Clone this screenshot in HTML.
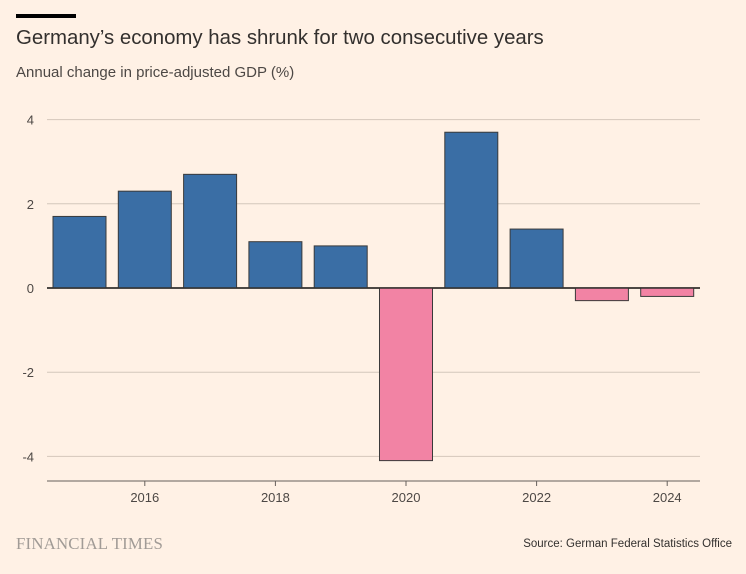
<!DOCTYPE html>
<html><head><meta charset="utf-8"><style>
body{margin:0;background:#fff1e5;font-family:"Liberation Sans",sans-serif;}
#wrap{position:relative;width:746px;height:574px;background:#fff1e5;overflow:hidden}
.t{position:absolute;white-space:nowrap}
</style></head><body>
<div id="wrap">
<div class="t" style="left:16px;top:14px;width:60px;height:4px;background:#000"></div>
<div class="t" style="left:16px;top:27px;font-size:20.4px;color:#33302e">Germany’s economy has shrunk for two consecutive years</div>
<div class="t" style="left:16px;top:64px;font-size:15px;color:#4d4845">Annual change in price-adjusted GDP (%)</div>
<svg id="c" width="746" height="574" style="position:absolute;left:0;top:0"></svg>
<div class="t" style="left:16px;top:534px;font-family:'Liberation Serif',serif;font-size:16.8px;color:#a19b96;letter-spacing:0.2px">FINANCIAL TIMES</div>
<div class="t" style="right:14px;top:538px;font-size:11.5px;color:#33302e">Source: German Federal Statistics Office</div>
</div>
<script>
const years=[2015,2016,2017,2018,2019,2020,2021,2022,2023,2024];
const values=[1.7,2.3,2.7,1.1,1.0,-4.1,3.7,1.4,-0.3,-0.2];
const yTicks=[4,2,0,-2,-4];
const xTicks=[2016,2018,2020,2022,2024];
const ns="http://www.w3.org/2000/svg";
const svg=document.getElementById('c');
const y=v=>288-v*42.1;
const x=yr=>79.5+(yr-2015)*65.3;
function mk(t,a){const e=document.createElementNS(ns,t);for(const k in a)e.setAttribute(k,a[k]);svg.appendChild(e);return e;}
yTicks.forEach(v=>{
 const l=mk('line',{x1:47,x2:700,y1:y(v),y2:y(v),stroke:v===0?'#33302e':'#d4c7bb','stroke-width':v===0?1.5:1});
 
 
 const t=mk('text',{x:34,y:y(v)+5,'text-anchor':'end','font-size':13,fill:'#4d4845','font-family':'Liberation Sans'});
 t.textContent=v;
 
 
});
years.forEach((yr,i)=>{
 const v=values[i];
 const r=mk('rect',{x:x(yr)-26.5,width:53,y:Math.min(y(0),y(v)),height:Math.abs(y(v)-y(0)),fill:v>=0?'#3a6ea5':'#f283a4',stroke:'#3a3a3a','stroke-width':1});
 
 
});
mk('line',{x1:47,x2:700,y1:y(0),y2:y(0),stroke:'#33302e','stroke-width':1.5});
const ax=mk('line',{x1:47,x2:700,y1:481,y2:481,stroke:'#66605c','stroke-width':1});


xTicks.forEach(yr=>{
 mk('line',{x1:x(yr),x2:x(yr),y1:481,y2:486,stroke:'#66605c'});
 const t=mk('text',{x:x(yr),y:502,'text-anchor':'middle','font-size':13,fill:'#4d4845','font-family':'Liberation Sans'});
 t.textContent=yr;
 
 
});
</script>
</body></html>
